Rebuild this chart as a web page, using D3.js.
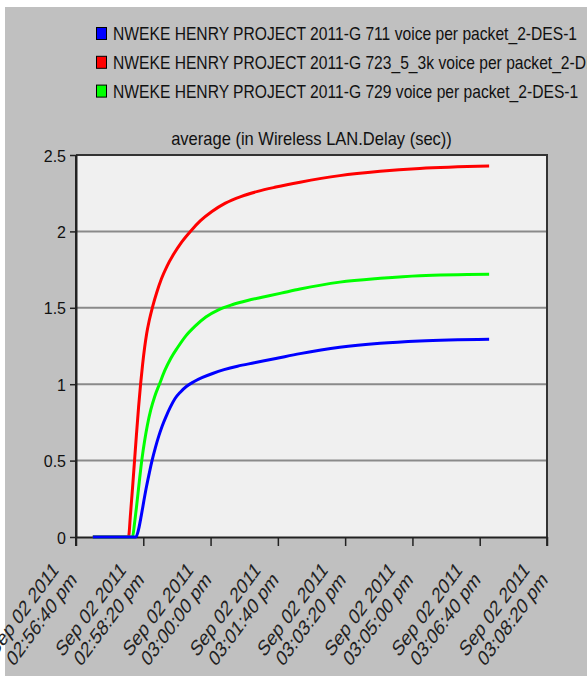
<!DOCTYPE html>
<html><head><meta charset="utf-8">
<script src="https://cdn.jsdelivr.net/npm/d3@7"></script>
<style>html,body{margin:0;padding:0;background:#c0c0c0;overflow:hidden}svg{display:block}</style>
</head><body><svg id="c" width="587" height="676"></svg>
<script>
// ---- data ----
const seriesNames = [
  "NWEKE HENRY PROJECT 2011-G 711 voice per packet_2-DES-1",
  "NWEKE HENRY PROJECT 2011-G 723_5_3k voice per packet_2-DES-1",
  "NWEKE HENRY PROJECT 2011-G 729 voice per packet_2-DES-1"
];
const seriesColors = ["#0000ff", "#ff0000", "#00ff00"];
const chartTitle = "average (in Wireless LAN.Delay (sec))";
const yTicks = [0, 0.5, 1, 1.5, 2, 2.5];
const xTickDay = "Sep 02 2011";
const xTickTimes = ["02:56:40 pm", "02:58:20 pm", "03:00:00 pm", "03:01:40 pm",
                    "03:03:20 pm", "03:05:00 pm", "03:06:40 pm", "03:08:20 pm"];
// [seconds after 02:56:40 pm, delay in sec]
const g711 = [[25,0],[89,0],[93,0.05],[97,0.14],[101,0.24],[105,0.335],[109,0.42],[113,0.5],
  [118,0.585],[123,0.66],[128,0.725],[134,0.79],[140,0.848],[147,0.905],[155,0.948],[164,0.985],
  [175,1.016],[188,1.044],[203,1.07],[220,1.095],[240,1.118],[265,1.14],[297,1.168],[333,1.2],
  [392,1.242],[452,1.268],[511,1.283],[614,1.294]];
const g723 = [[25,0],[78,0],[81,0.15],[84,0.32],[87,0.5],[90,0.68],[93,0.85],[96,1.0],[99,1.13],
  [102,1.24],[105,1.33],[109,1.42],[114,1.51],[120,1.6],[127,1.69],[135,1.77],[145,1.85],
  [157,1.93],[170,2.0],[185,2.07],[202,2.13],[222,2.185],[245,2.228],[270,2.262],[297,2.29],
  [333,2.322],[392,2.365],[452,2.393],[511,2.412],[614,2.428]];
const g729 = [[25,0],[84,0],[87,0.09],[90,0.2],[94,0.36],[98,0.51],[102,0.63],[106,0.73],
  [111,0.83],[117,0.92],[124,1.0],[132,1.09],[141,1.17],[151,1.24],[163,1.315],[177,1.38],
  [193,1.44],[211,1.485],[232,1.52],[255,1.548],[280,1.572],[305,1.596],[333,1.623],
  [392,1.668],[452,1.693],[511,1.71],[614,1.719]];
const seriesData = [g711, g723, g729];

// ---- chart ----
const W = 587, H = 676;
const L = 76, R = 547, T = 155, B = 537;
const FONT = "'Liberation Sans', Arial, sans-serif";
const svg = d3.select("#c");

svg.append("rect").attr("width", W).attr("height", H).attr("fill", "#c0c0c0");
svg.append("rect").attr("width", W).attr("height", 7).attr("fill", "#ffffff");
svg.append("rect").attr("width", 5).attr("height", H).attr("fill", "#ffffff");

const parse = d3.timeParse("%b %d %Y %I:%M:%S %p");
const tickDates = xTickTimes.map(t => parse(xTickDay + " " + t));
const t0 = tickDates[0];
const x = d3.scaleTime().domain([t0, tickDates[tickDates.length - 1]]).range([L, R]);
const y = d3.scaleLinear().domain([0, 2.5]).range([B, T]);

svg.append("rect").attr("x", L).attr("y", T).attr("width", R - L).attr("height", B - T).attr("fill", "#f0f0f0");

// grid
svg.append("g").selectAll("line").data(yTicks.filter(d => d > 0 && d < 2.5)).join("line")
  .attr("x1", L).attr("x2", R).attr("y1", d => y(d)).attr("y2", d => y(d))
  .attr("stroke", "#8a8a8a").attr("stroke-width", 2);

// frame
svg.append("line").attr("x1", L).attr("x2", R + 1).attr("y1", T).attr("y2", T).attr("stroke", "#333").attr("stroke-width", 2);
svg.append("line").attr("x1", R).attr("x2", R).attr("y1", T).attr("y2", B + 9).attr("stroke", "#333").attr("stroke-width", 2);
svg.append("line").attr("x1", L).attr("x2", L).attr("y1", T).attr("y2", B + 9).attr("stroke", "#222").attr("stroke-width", 2);

// y axis
const ya = svg.append("g").attr("transform", `translate(${L},0)`)
  .call(d3.axisLeft(y).tickValues(yTicks).tickSize(6).tickSizeOuter(0).tickFormat(d3.format("")));
ya.select(".domain").attr("stroke", "#222").attr("stroke-width", 2);
ya.selectAll(".tick line").attr("stroke", "#222").attr("stroke-width", 1.5);
ya.selectAll(".tick text").attr("font-family", FONT).attr("font-size", 16).attr("fill", "#111")
  .attr("x", -10).attr("dy", "0.38em");

// x axis
const xa = svg.append("g").attr("transform", `translate(0,${B})`)
  .call(d3.axisBottom(x).tickValues(tickDates).tickSize(9).tickSizeOuter(0).tickFormat(""));
xa.select(".domain").attr("stroke", "#222").attr("stroke-width", 2);
xa.selectAll(".tick line").attr("stroke", "#222").attr("stroke-width", 1.5);
xa.selectAll(".tick").each(function(d, i) {
  const g = d3.select(this);
  g.append("text").attr("transform", "translate(-17,34) scale(0.74,1) rotate(-45)")
    .attr("text-anchor", "end").attr("font-family", FONT).attr("font-size", 22).attr("fill", "#222")
    .text(xTickDay);
  g.append("text").attr("transform", "translate(1,44) scale(0.74,1) rotate(-45)")
    .attr("text-anchor", "end").attr("font-family", FONT).attr("font-size", 22).attr("fill", "#222")
    .text(xTickTimes[i]);
});

// lines
const line = d3.line()
  .x(d => x(new Date(t0.getTime() + d[0] * 1000)))
  .y(d => y(d[1]))
  .curve(d3.curveMonotoneX);
[1, 2, 0].forEach(i => {
  svg.append("path").datum(seriesData[i]).attr("d", line)
    .attr("fill", "none").attr("stroke", seriesColors[i]).attr("stroke-width", 3)
    .attr("stroke-linejoin", "round");
});

// title
svg.append("text").attr("transform", `translate(${(L + R) / 2},145) scale(0.944,1)`)
  .attr("text-anchor", "middle").attr("font-family", FONT).attr("font-size", 17.5).attr("fill", "#111")
  .text(chartTitle);

// legend
const lg = svg.append("g");
seriesNames.forEach((name, i) => {
  lg.append("rect").attr("x", 96.5).attr("y", 27.5 + i * 28.8).attr("width", 10).attr("height", 12)
    .attr("fill", seriesColors[i]).attr("stroke", "#000").attr("stroke-width", 1);
  lg.append("text").attr("transform", `translate(113,${40 + i * 28.8}) scale(0.894,1)`)
    .attr("font-family", FONT).attr("font-size", 17.5).attr("fill", "#111").text(name);
});
</script></body></html>
